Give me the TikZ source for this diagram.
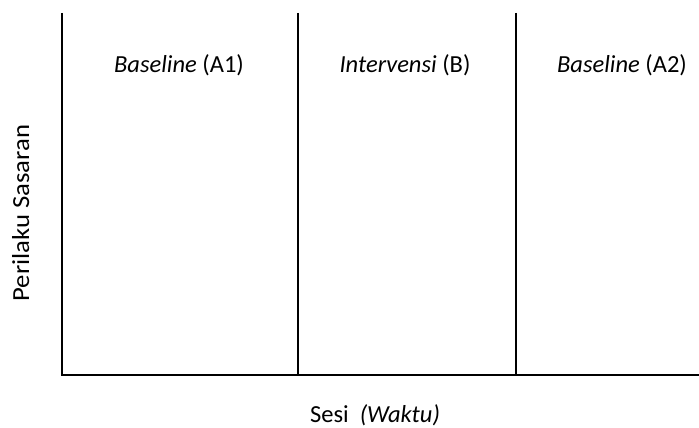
\documentclass[tikz,border=0pt]{standalone}
\usepackage{fontspec}
\setmainfont{Carlito}
\usepackage{tikz}
\usetikzlibrary{calc}

\begin{document}
\begin{tikzpicture}[x=1pt,y=-1pt,
    axisline/.style={black,line width=2.6pt},
    phaseline/.style={black,line width=1.6pt},
    phaselabel/.style={anchor=base,inner sep=0pt,font=\fontsize{24.5}{29}\selectfont}]
\useasboundingbox (0,0) rectangle (699,428);
%% axes
\coordinate (top) at (62,13);
\coordinate (origin) at (62,375);
\coordinate (xend) at (699,375);
\draw [axisline] (top) -- (origin) -- (xend);
%% phase change lines
\foreach \px/\pname in {298/ab, 516/ba}
    \draw [phaseline] (\px,13) coordinate (\pname top) -- (\px,375) coordinate (\pname bot);
%% phase labels
\node [phaselabel] (baseA) at (179,73) {\textit{Baseline} (A1)};
\node [phaselabel] (treatB) at (405,73) {\textit{Intervensi} (B)};
\node [phaselabel] (baseAA) at (622,73) {\textit{Baseline} (A2)};
%% axis titles
\node [phaselabel,rotate=90,xscale=1.09] (ytitle) at (29,213) {Perilaku Sasaran};
\node [phaselabel] (xtitle) at (375,422) {Sesi\ \ \textit{(Waktu)}};
\end{tikzpicture}
\end{document}
